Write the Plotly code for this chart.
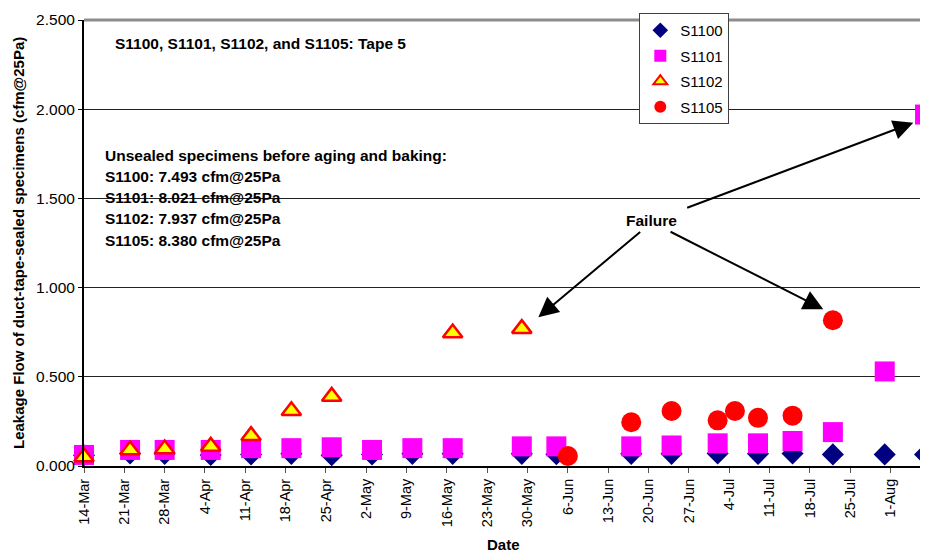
import plotly.graph_objects as go

# ---------------- data ----------------
s1100_dates = ["2005-03-14", "2005-03-22", "2005-03-28", "2005-04-05", "2005-04-12",
               "2005-04-19", "2005-04-26", "2005-05-03", "2005-05-10", "2005-05-17",
               "2005-05-29", "2005-06-04", "2005-06-17", "2005-06-24", "2005-07-02",
               "2005-07-09", "2005-07-15", "2005-07-22", "2005-07-31", "2005-08-07"]
s1100_vals = [0.060, 0.070, 0.068, 0.062, 0.065, 0.068, 0.060, 0.065, 0.068, 0.068,
              0.068, 0.066, 0.068, 0.068, 0.070, 0.068, 0.070, 0.065, 0.065, 0.065]

s1101_dates = s1100_dates
s1101_vals = [0.062, 0.090, 0.090, 0.090, 0.100, 0.100, 0.105, 0.090, 0.100, 0.100,
              0.110, 0.110, 0.110, 0.115, 0.127, 0.127, 0.140, 0.190, 0.530, 1.970]

s1102_dates = ["2005-03-14", "2005-03-22", "2005-03-28", "2005-04-05", "2005-04-12",
               "2005-04-19", "2005-04-26", "2005-05-17", "2005-05-29"]
s1102_vals = [0.050, 0.090, 0.095, 0.110, 0.170, 0.310, 0.390, 0.745, 0.770]

s1105_dates = ["2005-06-06", "2005-06-17", "2005-06-24", "2005-07-02", "2005-07-05",
               "2005-07-09", "2005-07-15", "2005-07-22"]
s1105_vals = [0.056, 0.245, 0.308, 0.256, 0.308, 0.270, 0.282, 0.817]

series_names = ["S1100", "S1101", "S1102", "S1105"]

title_text = "S1100, S1101, S1102, and S1105: Tape 5"
info_lines = ["Unsealed specimens before aging and baking:",
              "S1100: 7.493 cfm@25Pa",
              "S1101: 8.021 cfm@25Pa",
              "S1102: 7.937 cfm@25Pa",
              "S1105: 8.380 cfm@25Pa"]

FONT = "Arial, Liberation Sans, sans-serif"

fig = go.Figure()
fig.add_trace(go.Scatter(x=s1100_dates, y=s1100_vals, mode="markers", name=series_names[0],
                         legendgroup="a", cliponaxis=False,
                         marker=dict(symbol="diamond", size=17, color="#000080",
                                     line=dict(width=0))))
fig.add_trace(go.Scatter(x=s1101_dates, y=s1101_vals, mode="markers", name=series_names[1],
                         legendgroup="b", cliponaxis=False,
                         marker=dict(symbol="square", size=20, color="#FF00FF",
                                     line=dict(width=0))))
fig.add_trace(go.Scatter(x=s1102_dates, y=s1102_vals, mode="markers", name=series_names[2],
                         legendgroup="c", cliponaxis=False,
                         marker=dict(symbol="triangle-up", size=17, color="#FFFF00",
                                     line=dict(width=2.5, color="#FF0000"))))
fig.add_trace(go.Scatter(x=s1105_dates, y=s1105_vals, mode="markers", name=series_names[3],
                         legendgroup="d", cliponaxis=False,
                         marker=dict(symbol="circle", size=20, color="#FF0000",
                                     line=dict(width=0))))

annotations = []
annotations.append(dict(text="<b>" + title_text + "</b>", xref="x domain", yref="y domain",
                        x=0.0344, y=0.948, xanchor="left", yanchor="middle", showarrow=False,
                        font=dict(size=15.5, color="black", family=FONT)))
info_y = [0.6951, 0.6487, 0.6009, 0.5545, 0.5067]
for t, yy in zip(info_lines, info_y):
    annotations.append(dict(text="<b>" + t + "</b>", xref="x domain", yref="y domain",
                            x=0.0226, y=yy, xanchor="left", yanchor="middle", showarrow=False,
                            font=dict(size=15.5, color="black", family=FONT)))
annotations.append(dict(text="<b>Failure</b>", xref="x domain", yref="y domain",
                        x=0.6734, y=0.55, xanchor="center", yanchor="middle", showarrow=False,
                        font=dict(size=15.5, color="black", family=FONT)))
arrows = [((0.5396, 0.3334), (0.6623, 0.5276)),
          ((0.8780, 0.3513), (0.6948, 0.5269)),
          ((0.9849, 0.7697), (0.7146, 0.5778))]
for (hx, hy), (tx, ty) in arrows:
    annotations.append(dict(text="", xref="x domain", yref="y domain", axref="x domain",
                            ayref="y domain", x=hx, y=hy, ax=tx, ay=ty, showarrow=True,
                            arrowhead=2, arrowsize=2, arrowwidth=2, arrowcolor="black",
                            standoff=0, startstandoff=0))
annotations.append(dict(text="<b>Leakage Flow of duct-tape-sealed specimens (cfm@25Pa)</b>",
                        xref="x domain", yref="y domain", x=-0.0784, y=0.5, textangle=-90,
                        xanchor="center", yanchor="middle", showarrow=False,
                        font=dict(size=15, color="black", family=FONT)))
annotations.append(dict(text="<b>Date</b>", xref="x domain", yref="y domain",
                        x=0.4988, y=-0.177, xanchor="center", yanchor="middle", showarrow=False,
                        font=dict(size=15, color="black", family=FONT)))

shapes = [
    dict(type="line", xref="x domain", yref="y domain", x0=0, x1=1, y0=1, y1=1,
         line=dict(color="#8c8c8c", width=3)),
    dict(type="line", xref="x domain", yref="y domain", x0=1, x1=1, y0=0, y1=1,
         line=dict(color="#8c8c8c", width=3)),
]

# page body adds an 8px offset, so the figure is 920x544 to fill the 928x552 window
fig.update_layout(
    width=920, height=544,
    margin=dict(l=76, r=2, t=12, b=86, autoexpand=False),
    paper_bgcolor="white", plot_bgcolor="white",
    font=dict(family=FONT, size=15, color="black"),
    showlegend=True,
    legend=dict(x=0.6595, y=1.0157, xanchor="left", yanchor="top",
                bgcolor="white", bordercolor="#404040", borderwidth=1,
                font=dict(size=15, family=FONT), itemsizing="constant",
                itemwidth=30, tracegroupgap=3),
    annotations=annotations,
    shapes=shapes,
    xaxis=dict(type="date", range=["2005-03-14", "2005-08-07 04:00"],
               tickmode="linear", tick0="2005-03-14", dtick=7 * 86400000,
               tickformat="%-d-%b", tickangle=-90, ticks="outside", ticklen=5,
               tickcolor="#555", tickfont=dict(size=14.5, family=FONT),
               showgrid=False, showline=True, linecolor="black", linewidth=2,
               zeroline=False, automargin=False),
    yaxis=dict(range=[0, 2.5], tickmode="linear", tick0=0, dtick=0.5,
               tickformat=".3f", ticks="outside", ticklen=4, tickcolor="black",
               tickfont=dict(size=15.5, family=FONT),
               showgrid=True, gridcolor="#222222", gridwidth=1,
               showline=True, linecolor="black", linewidth=2, zeroline=False,
               automargin=False),
)

fig.write_html("out.html")
